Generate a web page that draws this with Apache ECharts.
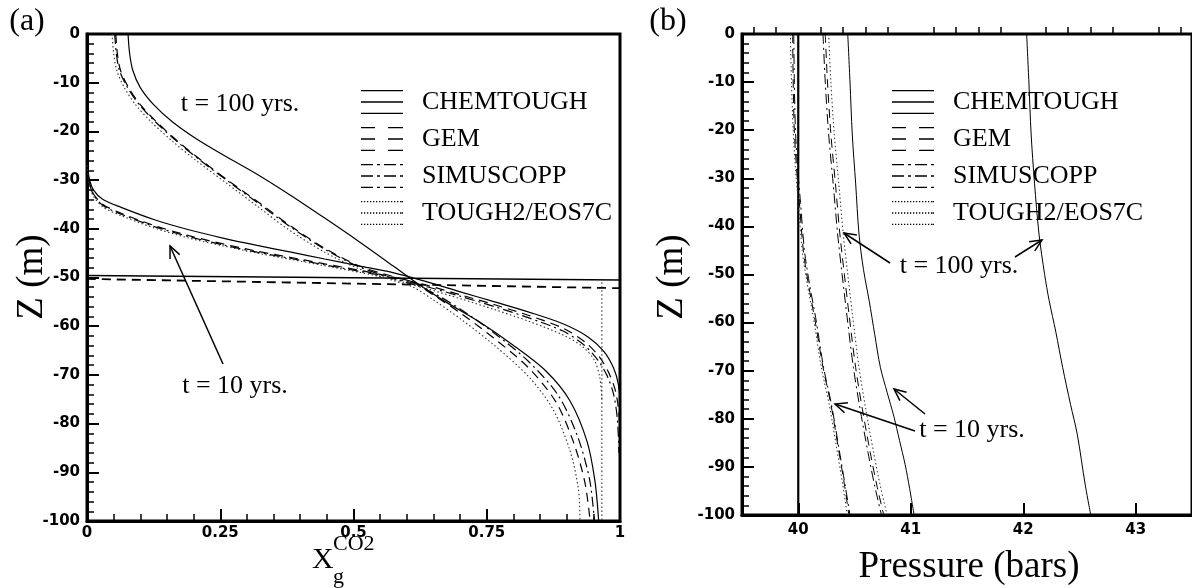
<!DOCTYPE html>
<html>
<head>
<meta charset="utf-8">
<script src="https://cdn.jsdelivr.net/npm/echarts@6/dist/echarts.min.js"></script>
<style>
  html, body { margin: 0; padding: 0; background: #fff; }
  #chart { width: 1192px; height: 588px; }
</style>
</head>
<body>
<div id="chart"></div>
<script>
// ---- data ----
// panel (a): [x_g^CO2, Z (m)]
const chemA100 = [[0.077,0],[0.080,-4],[0.086,-7.5],[0.100,-11],[0.125,-14.5],[0.160,-18],[0.205,-21.5],[0.255,-24.8],[0.319,-28.8],[0.383,-33.2],[0.446,-37.8],[0.510,-42.6],[0.574,-47.6],[0.612,-50.6],[0.670,-54.8],[0.733,-58.9],[0.797,-63.7],[0.861,-69.2],[0.906,-75.3],[0.938,-83.6],[0.953,-91.8],[0.960,-100]]
const gemA100 = [[0.054,0],[0.057,-4],[0.063,-7.5],[0.078,-11],[0.100,-14.5],[0.130,-18],[0.170,-22],[0.215,-26],[0.270,-30.5],[0.330,-35.2],[0.383,-39.5],[0.446,-44],[0.510,-47.6],[0.574,-49.8],[0.612,-51],[0.650,-53.6],[0.702,-57.4],[0.765,-62.6],[0.829,-68.6],[0.880,-75.6],[0.912,-83.6],[0.934,-92],[0.944,-100]]
const simA100 = [[0.052,0],[0.055,-4],[0.061,-7.5],[0.076,-11],[0.098,-14.5],[0.128,-18],[0.168,-22],[0.213,-26],[0.268,-30.5],[0.328,-35.3],[0.383,-39.7],[0.446,-44.2],[0.510,-47.8],[0.574,-50.2],[0.612,-51.4],[0.650,-53.2],[0.702,-56.6],[0.765,-61.5],[0.829,-67.3],[0.884,-74.2],[0.920,-82.5],[0.943,-91.5],[0.952,-100]]
const toughA100 = [[0.047,0],[0.050,-4],[0.056,-7.5],[0.070,-11],[0.091,-14.5],[0.120,-18],[0.160,-22],[0.205,-26],[0.260,-30.5],[0.320,-35.4],[0.376,-40],[0.446,-44.8],[0.510,-48.2],[0.574,-50.6],[0.612,-52],[0.650,-54.6],[0.702,-58.6],[0.765,-64],[0.829,-70.4],[0.874,-77],[0.906,-85.5],[0.922,-93.5],[0.925,-100]]
const chemA10 = [[0,-26],[0.004,-29.5],[0.012,-32],[0.030,-34],[0.064,-35.6],[0.128,-38.2],[0.191,-40.2],[0.255,-41.9],[0.319,-43.4],[0.383,-44.8],[0.446,-46.2],[0.510,-47.6],[0.574,-49.0],[0.638,-50.9],[0.702,-53.0],[0.765,-55.0],[0.829,-57.1],[0.893,-59.5],[0.940,-62.2],[0.970,-65.2],[0.988,-68.6],[0.997,-72],[1.0,-76],[1.0,-100]]
const gemA10 = [[0,-26.5],[0.004,-30.2],[0.012,-32.8],[0.030,-35],[0.064,-36.8],[0.128,-39.4],[0.191,-41.4],[0.255,-43.1],[0.319,-44.6],[0.383,-45.9],[0.446,-47.2],[0.510,-48.5],[0.574,-49.9],[0.638,-51.6],[0.702,-53.6],[0.765,-55.6],[0.829,-57.8],[0.893,-60.4],[0.935,-63.3],[0.962,-66.4],[0.980,-69.8],[0.992,-73.5],[0.998,-78],[1.0,-84]]
const simA10 = [[0,-26.8],[0.004,-30.4],[0.012,-33],[0.030,-35.2],[0.064,-37],[0.128,-39.6],[0.191,-41.6],[0.255,-43.3],[0.319,-44.8],[0.383,-46.1],[0.446,-47.4],[0.510,-48.7],[0.574,-50.1],[0.638,-51.9],[0.702,-53.9],[0.765,-56],[0.829,-58.3],[0.893,-61],[0.932,-63.8],[0.958,-66.9],[0.976,-70.2],[0.988,-74],[0.995,-79],[0.998,-86]]
const toughA10 = [[0,-27],[0.004,-30.8],[0.012,-33.3],[0.030,-35.5],[0.064,-37.3],[0.128,-39.9],[0.191,-41.9],[0.255,-43.5],[0.319,-45],[0.383,-46.3],[0.446,-47.6],[0.510,-48.9],[0.574,-50.4],[0.638,-52.3],[0.702,-54.4],[0.765,-56.6],[0.829,-59],[0.893,-61.8],[0.930,-64.2],[0.952,-67],[0.962,-70.5],[0.966,-75]]
const chemA0 = [[0,-49.6],[1,-50.5]]
const gemA0 = [[0,-50.3],[1,-52.2]]
const toughA0 = [[0.966,-51],[0.966,-100]]

// panel (b): [pressure (bars), Z (m)]
const chemB0 = [[40,0],[40,-100]]
const chemB10 = [[40.44,0],[40.46,-10],[40.48,-20.8],[40.51,-31],[40.54,-41.6],[40.58,-49],[40.63,-55.4],[40.68,-62.5],[40.73,-69.3],[40.79,-74.5],[40.85,-79.5],[40.90,-84.5],[40.95,-89.5],[40.99,-94.5],[41.03,-100]]
const gemB10 = [[39.95,0],[39.955,-10],[39.965,-20],[39.985,-28],[40.01,-35],[40.045,-45],[40.09,-52],[40.145,-59],[40.22,-69.3],[40.29,-77],[40.36,-86.6],[40.41,-93.6],[40.45,-100]]
const simB10 = [[39.96,0],[39.965,-10],[39.975,-20],[39.995,-28],[40.02,-35],[40.055,-45],[40.10,-52],[40.155,-59],[40.225,-69.3],[40.295,-77],[40.365,-86.6],[40.415,-93.6],[40.46,-100]]
const toughB10 = [[39.93,0],[39.94,-10],[39.955,-20],[39.975,-28],[40.0,-35],[40.035,-45],[40.08,-52],[40.135,-59],[40.205,-69.3],[40.275,-77],[40.345,-86.6],[40.395,-93.6],[40.435,-100]]
const chemB100 = [[42.03,0],[42.05,-10],[42.07,-20.8],[42.10,-31],[42.14,-41.6],[42.19,-50],[42.23,-55.4],[42.29,-62],[42.35,-69.3],[42.42,-77],[42.48,-83.2],[42.55,-93.6],[42.60,-100]]
const gemB100 = [[40.24,0],[40.26,-10],[40.29,-20.8],[40.33,-31],[40.37,-41.6],[40.41,-50],[40.45,-58],[40.51,-69.3],[40.57,-78],[40.64,-87],[40.70,-94],[40.76,-100]]
const simB100 = [[40.22,0],[40.24,-10],[40.27,-20.8],[40.31,-31],[40.35,-41.6],[40.39,-50],[40.43,-58],[40.49,-69.3],[40.55,-78],[40.62,-87],[40.68,-94],[40.74,-100]]
const toughB100 = [[40.27,0],[40.29,-10],[40.32,-20.8],[40.36,-31],[40.40,-41.6],[40.44,-50],[40.48,-58],[40.54,-69.3],[40.60,-78],[40.67,-87],[40.73,-94],[40.79,-100]]

const models = ['CHEMTOUGH', 'GEM', 'SIMUSCOPP', 'TOUGH2/EOS7C']
const pMajorTicks = [40, 41, 42, 43]
const pMinorTicks = [39.6, 39.8, 40.2, 40.4, 40.6, 40.8, 41.2, 41.4, 41.6, 41.8, 42.2, 42.4, 42.6, 42.8, 43.2, 43.4]

// ---- styles ----
const lineStyles = {
  'CHEMTOUGH': { color: '#000', width: 1.2, type: 'solid' },
  'GEM': { color: '#000', width: 1.2, type: [9, 6] },
  'SIMUSCOPP': { color: '#000', width: 1.2, type: [10, 4, 2, 4] },
  'TOUGH2/EOS7C': { color: '#333', width: 1.1, type: [1.5, 2.5] }
}

// legend icons: three stacked strokes, like the original key
const IW = 42, IH = 24, T = 1.3
function iconPath(segs) {
  let d = ''
  ;[0, (IH - T) / 2, IH - T].forEach(y => {
    segs.forEach(s => { d += `M${s[0]},${y}H${s[1]}V${y + T}H${s[0]}Z` })
  })
  return 'path://' + d
}
const dotSegs = []
for (let x = 0; x + T < IW; x += 3) dotSegs.push([x, x + T])
dotSegs.push([IW - T, IW])
const icons = {
  'CHEMTOUGH': iconPath([[0, IW]]),
  'GEM': iconPath([[0, 14], [27, IW]]),
  'SIMUSCOPP': iconPath([[0, 12], [16, 19], [23, 35], [39, IW]]),
  'TOUGH2/EOS7C': iconPath(dotSegs)
}

const labelFont = { color: '#000', fontFamily: 'DejaVu Sans', fontWeight: 'bold', fontSize: 15 }
const serif = '"Liberation Serif", "Times New Roman", serif'

function valueAxis(gridIndex, extra) {
  return Object.assign({
    type: 'value',
    gridIndex: gridIndex,
    axisLine: { show: true, onZero: false, lineStyle: { color: '#000', width: 3 } },
    axisTick: { show: true, inside: true, length: 12, lineStyle: { color: '#000', width: 2 } },
    minorTick: { show: true, splitNumber: 5, length: 7, lineStyle: { color: '#000', width: 1.5 } },
    axisLabel: Object.assign({ margin: 7 }, labelFont),
    splitLine: { show: false },
    minorSplitLine: { show: false }
  }, extra)
}

function makeSeries(name, data, xIdx, yIdx, width) {
  const ls = Object.assign({}, lineStyles[name])
  if (width) ls.width = width
  return {
    name: name,
    type: 'line',
    xAxisIndex: xIdx,
    yAxisIndex: yIdx,
    data: data,
    showSymbol: false,
    symbol: 'none',
    smooth: 0.3,
    lineStyle: ls,
    itemStyle: { color: '#000' },
    emphasis: { disabled: true },
    silent: true
  }
}

function arrow(x1, y1, x2, y2) {
  const a = Math.atan2(y2 - y1, x2 - x1), L = 13, h = 0.42
  return [
    { type: 'line', shape: { x1, y1, x2, y2 }, style: { stroke: '#000', lineWidth: 1.5 } },
    { type: 'polyline', shape: { points: [
      [x2 - L * Math.cos(a - h), y2 - L * Math.sin(a - h)], [x2, y2],
      [x2 - L * Math.cos(a + h), y2 - L * Math.sin(a + h)]] },
      style: { stroke: '#000', fill: null, lineWidth: 1.5 } }
  ]
}
function label(text, x, y, size, rotation) {
  return { type: 'text', x: x, y: y, rotation: rotation || 0,
    style: { text: text, font: `${size}px ${serif}`, fill: '#000', align: 'center', verticalAlign: 'middle' } }
}

function legendFor(left) {
  return {
    left: left, top: 84, orient: 'vertical',
    itemWidth: IW, itemHeight: IH, itemGap: 11,
    selectedMode: false,
    itemStyle: { color: '#000', borderWidth: 0 },
    textStyle: { fontFamily: serif, fontSize: 26, color: '#000', lineHeight: 24, padding: [0, 0, 0, 14] },
    data: models.map(m => ({ name: m, icon: icons[m] }))
  }
}

const chart = echarts.init(document.getElementById('chart'))
const option = {
  animation: false,
  backgroundColor: '#fff',
  grid: [
    { left: 87, top: 34, width: 533, height: 487, show: true, borderColor: '#000', borderWidth: 3 },
    { left: 742, top: 34, width: 457, height: 481, show: true, borderColor: '#000', borderWidth: 3 }
  ],
  xAxis: [
    valueAxis(0, { min: 0, max: 1, interval: 0.25, axisLabel: Object.assign({ margin: 5 }, labelFont) }),
    valueAxis(1, {
      min: 39.5, max: 43.5,
      axisTick: { show: true, inside: true, length: 12, customValues: pMajorTicks, lineStyle: { color: '#000', width: 2 } },
      minorTick: { show: false },
      axisLabel: Object.assign({ margin: 8, customValues: pMajorTicks }, labelFont)
    }),
    valueAxis(1, {
      min: 39.5, max: 43.5, position: 'bottom',
      axisLine: { show: false },
      axisTick: { show: true, inside: true, length: 7, customValues: pMinorTicks, lineStyle: { color: '#000', width: 1.5 } },
      minorTick: { show: false },
      axisLabel: { show: false }
    })
  ],
  yAxis: [
    valueAxis(0, { min: -100, max: 0, interval: 10 }),
    valueAxis(1, { min: -100, max: 0, interval: 10 })
  ],
  legend: [legendFor(356), legendFor(887)],
  series: [
    makeSeries('CHEMTOUGH', chemA100, 0, 0),
    makeSeries('CHEMTOUGH', chemA10, 0, 0),
    makeSeries('CHEMTOUGH', chemA0, 0, 0, 1.6),
    makeSeries('GEM', gemA100, 0, 0),
    makeSeries('GEM', gemA10, 0, 0),
    makeSeries('GEM', gemA0, 0, 0, 1.8),
    makeSeries('SIMUSCOPP', simA100, 0, 0),
    makeSeries('SIMUSCOPP', simA10, 0, 0),
    makeSeries('TOUGH2/EOS7C', toughA100, 0, 0),
    makeSeries('TOUGH2/EOS7C', toughA10, 0, 0),
    makeSeries('TOUGH2/EOS7C', toughA0, 0, 0),
    makeSeries('CHEMTOUGH', chemB0, 1, 1, 2.2),
    makeSeries('CHEMTOUGH', chemB10, 1, 1, 1),
    makeSeries('CHEMTOUGH', chemB100, 1, 1, 1),
    makeSeries('GEM', gemB10, 1, 1, 1),
    makeSeries('GEM', gemB100, 1, 1, 1),
    makeSeries('SIMUSCOPP', simB10, 1, 1, 1),
    makeSeries('SIMUSCOPP', simB100, 1, 1, 1),
    makeSeries('TOUGH2/EOS7C', toughB10, 1, 1, 1),
    makeSeries('TOUGH2/EOS7C', toughB100, 1, 1, 1)
  ],
  graphic: [
    label('(a)', 27, 22, 32),
    label('(b)', 668, 22, 32),
    label('Z (m)', 32, 277, 37, Math.PI / 2),
    label('Z (m)', 672, 277, 37, Math.PI / 2),
    label('Pressure (bars)', 969, 567, 37),
    { type: 'text', x: 312, y: 560, style: { text: 'X', font: `30px ${serif}`, fill: '#000', verticalAlign: 'middle' } },
    { type: 'text', x: 333, y: 544, style: { text: 'CO2', font: `22px ${serif}`, fill: '#000', verticalAlign: 'middle' } },
    { type: 'text', x: 333, y: 577, style: { text: 'g', font: `22px ${serif}`, fill: '#000', verticalAlign: 'middle' } },
    label('t = 100 yrs.', 240, 104, 26),
    label('t = 10 yrs.', 235, 386, 26),
    ...arrow(223, 364, 170, 246),
    label('t = 100 yrs.', 959, 266, 26),
    ...arrow(890, 263, 844, 233),
    ...arrow(1015, 257, 1042, 240),
    label('t = 10 yrs.', 972, 430, 26),
    ...arrow(915, 431, 835, 404),
    ...arrow(925, 414, 894, 389)
  ]
}
chart.setOption(option)
</script>
</body>
</html>
